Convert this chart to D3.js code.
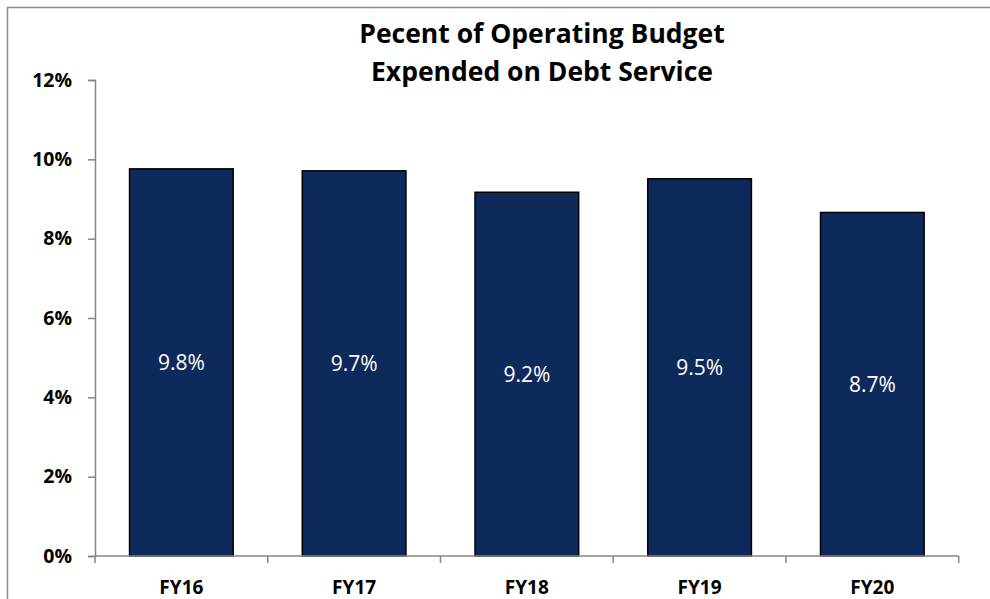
<!DOCTYPE html>
<html>
<head>
<meta charset="utf-8">
<script src="https://cdn.jsdelivr.net/npm/d3@7"></script>
<style>
  html, body { margin: 0; padding: 0; background: #ffffff; }
  svg { display: block; }
  text { font-family: "Open Sans", Lato, sans-serif; }
</style>
</head>
<body>
<svg id="chart" width="990" height="599"></svg>
<script>
// Debt service as a share of the operating budget, by fiscal year
const categories = ["FY16", "FY17", "FY18", "FY19", "FY20"];
const debtSharePct = [9.76, 9.71, 9.17, 9.51, 8.66];
const yTickValues = [0, 2, 4, 6, 8, 10, 12];
const titleLines = ["Pecent of Operating Budget", "Expended on Debt Service"];

const W = 990, H = 599;
const svg = d3.select("#chart");

// outer frame of the chart area
svg.append("rect")
  .attr("x", 7.5).attr("y", 7.5)
  .attr("width", W + 20).attr("height", H + 20)
  .attr("fill", "#ffffff")
  .attr("stroke", "#8c8c8c")
  .attr("stroke-width", 1.5);

const plot = { left: 95, right: 958.7, top: 80, bottom: 556 };

const x = d3.scaleBand()
  .domain(categories)
  .range([plot.left, plot.right])
  .paddingInner(0.4)
  .paddingOuter(0.2);

const y = d3.scaleLinear()
  .domain([0, 12])
  .range([plot.bottom, plot.top]);

const axisColor = "#868686";

// bars
svg.append("g").selectAll("rect")
  .data(categories)
  .join("rect")
  .attr("x", d => x(d))
  .attr("y", (d, i) => y(debtSharePct[i]))
  .attr("width", x.bandwidth())
  .attr("height", (d, i) => y(0) - y(debtSharePct[i]))
  .attr("fill", "#0d2a5b")
  .attr("stroke", "#000000")
  .attr("stroke-width", 1.5);

// value labels centred in each bar
const fmt = d3.format(".1f");
svg.append("g").selectAll("text")
  .data(categories)
  .join("text")
  .attr("x", d => x(d) + x.bandwidth() / 2)
  .attr("y", (d, i) => (y(debtSharePct[i]) + y(0)) / 2)
  .attr("dy", "0.36em")
  .attr("text-anchor", "middle")
  .attr("fill", "#ffffff")
  .attr("font-family", "Lato, sans-serif")
  .attr("font-size", 21)
  .text((d, i) => fmt(debtSharePct[i]) + "%");

// y axis
const yAxis = svg.append("g")
  .attr("transform", `translate(${plot.left},0)`)
  .call(d3.axisLeft(y).tickValues(yTickValues).tickSize(7).tickPadding(16)
    .tickFormat(d => d + "%"));
yAxis.select(".domain").attr("stroke", axisColor).attr("stroke-width", 1.5);
yAxis.selectAll(".tick line").attr("stroke", axisColor).attr("stroke-width", 1.5);
yAxis.selectAll(".tick text")
  .attr("fill", "#000000")
  .attr("font-size", 19.5)
  .attr("font-weight", "bold")
  .attr("font-family", "'Open Sans', sans-serif");

// x axis line with category divider ticks
const step = x.step();
const dividers = categories.map(c => x(c) - step * x.paddingInner() / 2)
  .concat([x(categories[categories.length - 1]) + x.bandwidth() + step * x.paddingInner() / 2]);
const xAxis = svg.append("g");
xAxis.append("line")
  .attr("x1", plot.left).attr("x2", dividers[dividers.length - 1])
  .attr("y1", plot.bottom).attr("y2", plot.bottom)
  .attr("stroke", axisColor).attr("stroke-width", 1.5);
xAxis.selectAll("line.div")
  .data(dividers)
  .join("line")
  .attr("class", "div")
  .attr("x1", d => d).attr("x2", d => d)
  .attr("y1", plot.bottom).attr("y2", plot.bottom + 7)
  .attr("stroke", axisColor).attr("stroke-width", 1.5);
xAxis.selectAll("text")
  .data(categories)
  .join("text")
  .attr("x", d => x(d) + x.bandwidth() / 2)
  .attr("y", 593.5)
  .attr("text-anchor", "middle")
  .attr("font-size", 19)
  .attr("font-weight", "bold")
  .attr("fill", "#000000")
  .text(d => d);

// title
svg.append("g").selectAll("text")
  .data(titleLines)
  .join("text")
  .attr("x", 542)
  .attr("y", (d, i) => 43 + i * 37.7)
  .attr("text-anchor", "middle")
  .attr("font-size", 26.5)
  .attr("font-weight", "bold")
  .attr("fill", "#000000")
  .text(d => d);
</script>
</body>
</html>
